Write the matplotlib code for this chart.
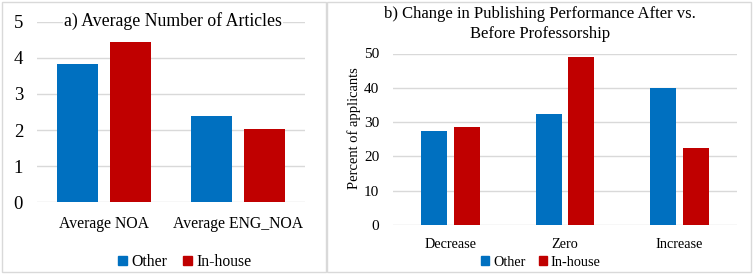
import matplotlib
matplotlib.use("Agg")
import matplotlib.pyplot as plt
import numpy as np
from matplotlib.patches import Rectangle, Patch

plt.rcParams['font.family'] = ['Liberation Serif', 'DejaVu Serif']

# Panel a data
cats_a = ["Average NOA", "Average ENG_NOA"]
other_a = [3.84, 2.40]
inhouse_a = [4.44, 2.04]
yticks_a = [0, 1, 2, 3, 4, 5]

# Panel b data
cats_b = ["Decrease", "Zero", "Increase"]
other_b = [27.5, 32.5, 40.0]
inhouse_b = [28.5, 49.0, 22.5]
yticks_b = [0, 10, 20, 30, 40, 50]

series = ["Other", "In-house"]
BLUE = "#0070C0"
RED = "#C00000"
GRID = "#D9D9D9"

W, H = 753, 275
fig = plt.figure(figsize=(W / 100, H / 100), dpi=100)

def fx(px):
    return px / W

def fy(py):
    return 1 - py / H

# panel borders
for x0, x1 in [(1.5, 325.7), (327.2, 750.5)]:
    fig.patches.append(Rectangle((fx(x0), fy(271.5)), fx(x1 - x0), (269.5) / H,
                                 transform=fig.transFigure, fill=False,
                                 edgecolor="#D9D9D9", linewidth=1.0))

# ---- Panel a ----
axa = fig.add_axes([fx(37), fy(202.3), fx(305 - 37), (202.3 - 21.7) / H])
x = np.arange(len(cats_a))
bw = 0.305
off = 0.195
axa.bar(x - off, other_a, bw, color=BLUE, label=series[0], zorder=3)
axa.bar(x + off, inhouse_a, bw, color=RED, label=series[1], zorder=3)
axa.set_xlim(-0.5, len(cats_a) - 0.5)
axa.set_ylim(0, 5)
axa.set_yticks(yticks_a)
axa.set_yticklabels([str(v) for v in yticks_a], fontsize=13.5)
axa.set_xticks(x)
axa.set_xticklabels(cats_a, fontsize=11.3)
axa.tick_params(axis='y', length=0, pad=10)
axa.tick_params(axis='x', length=0, pad=10)
axa.grid(axis='y', color=GRID, linewidth=1, zorder=0)
for s in axa.spines.values():
    s.set_visible(False)
fig.text(fx(173), fy(21), "a) Average Number of Articles", ha='center', va='center',
         fontsize=12.8, bbox=dict(facecolor='white', edgecolor='none', pad=1))
fig.legend(handles=[Patch(color=BLUE, label=series[0]), Patch(color=RED, label=series[1])],
           loc='center', bbox_to_anchor=(fx(185), fy(262)), ncol=2, frameon=False,
           fontsize=11.3, handlelength=0.55, handleheight=0.55, handletextpad=0.3,
           columnspacing=1.0)

# ---- Panel b ----
axb = fig.add_axes([fx(393.3), fy(225), fx(736.7 - 393.3), (225 - 53.5) / H])
xb = np.arange(len(cats_b))
bwb = 0.227
offb = 0.144
axb.bar(xb - offb, other_b, bwb, color=BLUE, label=series[0], zorder=3)
axb.bar(xb + offb, inhouse_b, bwb, color=RED, label=series[1], zorder=3)
axb.set_xlim(-0.5, len(cats_b) - 0.5)
axb.set_ylim(0, 50)
axb.set_yticks(yticks_b)
axb.set_yticklabels([str(v) for v in yticks_b], fontsize=11)
axb.set_xticks(xb)
axb.set_xticklabels(cats_b, fontsize=10.3)
axb.tick_params(axis='y', length=0, pad=10)
axb.tick_params(axis='x', length=0, pad=9)
axb.grid(axis='y', color=GRID, linewidth=1, zorder=0)
for s in axb.spines.values():
    s.set_visible(False)
axb.set_ylabel("Percent of applicants", fontsize=10.5)
axb.yaxis.set_label_coords((361 - 393.3) / 343.4, (225 - 128) / 171.5)
fig.text(fx(540), fy(24), "b) Change in Publishing Performance After vs.\nBefore Professorship",
         ha='center', va='center', fontsize=12, linespacing=1.3)
fig.legend(handles=[Patch(color=BLUE, label=series[0]), Patch(color=RED, label=series[1])],
           loc='center', bbox_to_anchor=(fx(541), fy(262)), ncol=2, frameon=False,
           fontsize=10.3, handlelength=0.55, handleheight=0.55, handletextpad=0.3,
           columnspacing=0.9)

fig.savefig("out.png", dpi=100)
